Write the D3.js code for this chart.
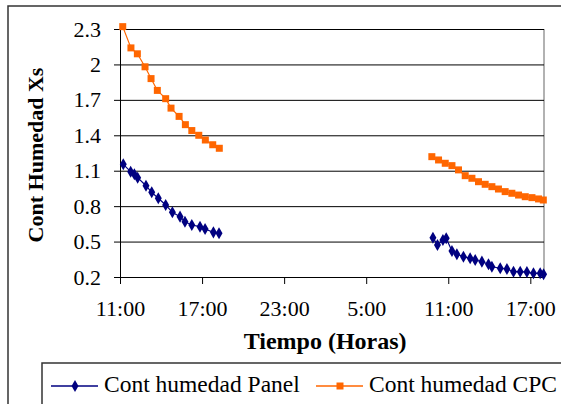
<!DOCTYPE html>
<html>
<head>
<meta charset="utf-8">
<script src="https://cdn.jsdelivr.net/npm/d3@7"></script>
<style>
  html, body { margin: 0; padding: 0; background: #fff; }
</style>
</head>
<body>
<div id="chart"></div>
<script>
// hours counted from 11:00 on the first day
const panelDay1Hours = [0.24, 0.78, 1.05, 1.29, 1.9, 2.32, 2.8, 3.34, 3.83, 4.39, 4.75, 5.25, 5.85, 6.22, 6.83, 7.24];
const panelDay1Values = [1.154, 1.092, 1.07, 1.041, 0.973, 0.917, 0.867, 0.81, 0.748, 0.711, 0.668, 0.64, 0.626, 0.607, 0.578, 0.57];
const panelDay2Hours = [22.88, 23.21, 23.61, 23.85, 24.27, 24.63, 25.11, 25.6, 25.97, 26.46, 26.94, 27.19, 27.8, 28.29, 28.77, 29.26, 29.75, 30.23, 30.72, 30.97];
const panelDay2Values = [0.533, 0.471, 0.513, 0.528, 0.42, 0.392, 0.372, 0.358, 0.344, 0.33, 0.308, 0.287, 0.274, 0.268, 0.245, 0.245, 0.242, 0.231, 0.231, 0.223];

const cpcDay1Hours = [0.2, 0.8, 1.27, 1.83, 2.27, 2.73, 3.34, 3.73, 4.32, 4.78, 5.25, 5.76, 6.24, 6.78, 7.26];
const cpcDay1Values = [2.32, 2.14, 2.09, 1.98, 1.88, 1.78, 1.71, 1.63, 1.56, 1.49, 1.44, 1.4, 1.36, 1.32, 1.29];
const cpcDay2Hours = [22.8, 23.29, 23.78, 24.27, 24.75, 25.24, 25.73, 26.21, 26.7, 27.19, 27.67, 28.16, 28.65, 29.14, 29.63, 30.12, 30.6, 30.95];
const cpcDay2Values = [1.219, 1.191, 1.163, 1.143, 1.107, 1.058, 1.036, 1.007, 0.985, 0.965, 0.945, 0.923, 0.909, 0.894, 0.88, 0.872, 0.861, 0.852];

const yTicks = [0.2, 0.5, 0.8, 1.1, 1.4, 1.7, 2, 2.3];
const xTickHours = [0, 6, 12, 18, 24, 30];
const xTickLabels = ["11:00", "17:00", "23:00", "5:00", "11:00", "17:00"];

const seriesNames = ["Cont humedad Panel", "Cont humedad CPC"];
const PANEL = "#000080", CPC = "#ff6600";
const FONT = "Liberation Serif";

const W = 561, H = 404;
const margin = { top: 29, right: 17, bottom: 127, left: 120 };
const width = W - margin.left - margin.right;
const height = H - margin.top - margin.bottom;

const svg = d3.select("#chart").append("svg")
  .attr("width", W)
  .attr("height", H);

// outer chart frame (runs off the right/bottom edge like the source)
svg.append("rect")
  .attr("x", 8).attr("y", 6)
  .attr("width", W + 20).attr("height", H + 20)
  .attr("fill", "#fff")
  .attr("stroke", "#333").attr("stroke-width", 1.5);

const g = svg.append("g").attr("transform", `translate(${margin.left},${margin.top})`);

const x = d3.scaleLinear().domain([0, 31]).range([0, width]);
const y = d3.scaleLinear().domain([0.2, 2.3]).range([height, 0]);

// plot area right border
g.append("line")
  .attr("x1", width).attr("x2", width).attr("y1", 0).attr("y2", height)
  .attr("stroke", "#999").attr("stroke-width", 1.5);

// y axis with gridlines
const yAxis = g.append("g")
  .call(d3.axisLeft(y).tickValues(yTicks).tickSize(6).tickPadding(13).tickFormat(d => String(d)));
yAxis.select(".domain").attr("stroke", "#000");
yAxis.selectAll(".tick line").clone()
  .attr("x1", 0).attr("x2", width);
yAxis.selectAll(".tick line").attr("stroke", "#000");
yAxis.selectAll("text")
  .attr("fill", "#000")
  .attr("font-family", FONT)
  .attr("font-size", 22);

// x axis
const xAxis = g.append("g")
  .attr("transform", `translate(0,${height})`)
  .call(d3.axisBottom(x).tickValues(xTickHours).tickSize(7).tickSizeOuter(0).tickPadding(16)
    .tickFormat((d, i) => xTickLabels[i]));
xAxis.select(".domain").attr("stroke", "#000");
xAxis.selectAll(".tick line").attr("stroke", "#000");
xAxis.selectAll("text")
  .attr("fill", "#000")
  .attr("font-family", FONT)
  .attr("font-size", 22);

// series
const line = d3.line().x(d => x(d[0])).y(d => y(d[1]));
const diamond = d3.symbol().type(d3.symbolDiamond).size(42);
const square = d3.symbol().type(d3.symbolSquare).size(49);

function drawSegment(hours, values, color, symbol) {
  const pts = hours.map((h, i) => [h, values[i]]);
  g.append("path").datum(pts)
    .attr("d", line)
    .attr("fill", "none")
    .attr("stroke", color)
    .attr("stroke-width", 1.2);
  g.selectAll(null).data(pts).enter().append("path")
    .attr("transform", d => `translate(${x(d[0])},${y(d[1])})`)
    .attr("d", symbol)
    .attr("fill", color);
}

drawSegment(cpcDay1Hours, cpcDay1Values, CPC, square);
drawSegment(cpcDay2Hours, cpcDay2Values, CPC, square);
drawSegment(panelDay1Hours, panelDay1Values, PANEL, diamond);
drawSegment(panelDay2Hours, panelDay2Values, PANEL, diamond);

// axis titles
svg.append("text")
  .attr("x", margin.left + x(15)).attr("y", 349)
  .attr("text-anchor", "middle")
  .attr("font-family", FONT)
  .attr("font-size", 24).attr("font-weight", "bold")
  .text("Tiempo (Horas)");

svg.append("text")
  .attr("transform", `translate(43,${margin.top + height / 2 + 2}) rotate(-90)`)
  .attr("text-anchor", "middle")
  .attr("font-family", FONT)
  .attr("font-size", 22).attr("font-weight", "bold")
  .text("Cont Humedad Xs");

// legend
const legend = svg.append("g");
legend.append("rect")
  .attr("x", 42).attr("y", 363)
  .attr("width", 600).attr("height", 100)
  .attr("fill", "#fff")
  .attr("stroke", "#333").attr("stroke-width", 1.5);

const legendItems = [
  { name: seriesNames[0], color: PANEL, symbol: diamond, x0: 51 },
  { name: seriesNames[1], color: CPC, symbol: square, x0: 316 }
];
legendItems.forEach(it => {
  legend.append("line")
    .attr("x1", it.x0).attr("x2", it.x0 + 47)
    .attr("y1", 386).attr("y2", 386)
    .attr("stroke", it.color).attr("stroke-width", 1.5);
  legend.append("path")
    .attr("transform", `translate(${it.x0 + 24},386)`)
    .attr("d", it.symbol)
    .attr("fill", it.color);
  legend.append("text")
    .attr("x", it.x0 + 53).attr("y", 392)
    .attr("font-family", FONT)
    .attr("font-size", 23.5)
    .text(it.name);
});
</script>
</body>
</html>
